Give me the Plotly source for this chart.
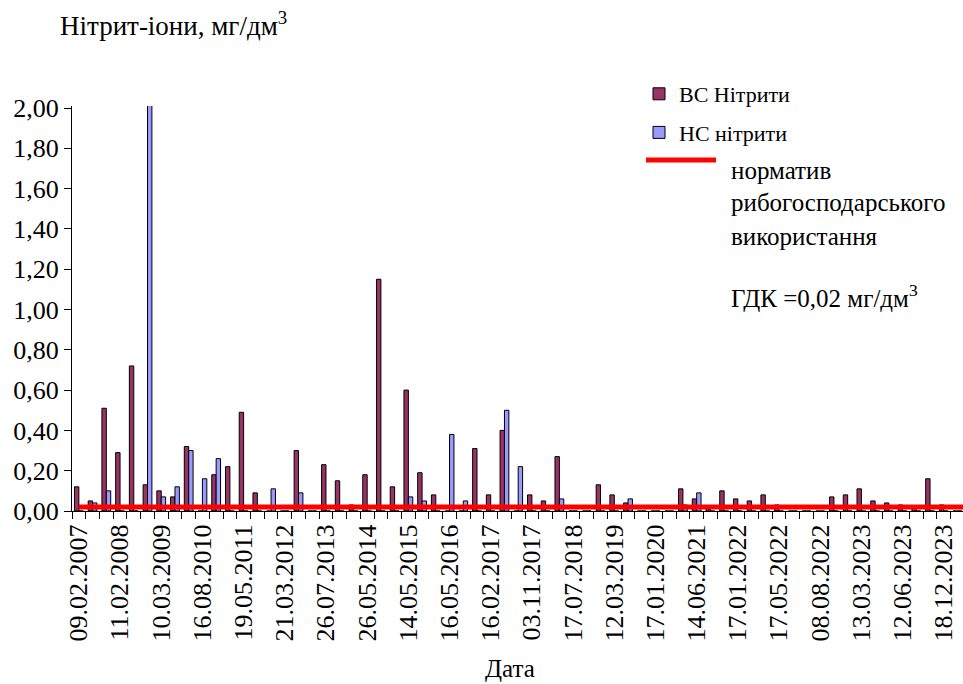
import plotly.graph_objects as go

# Sampling dates shown on the axis (every third sample is labelled)
tick_labels = [
    "09.02.2007", "11.02.2008", "10.03.2009", "16.08.2010", "19.05.2011",
    "21.03.2012", "26.07.2013", "26.05.2014", "14.05.2015", "16.05.2016",
    "16.02.2017", "03.11.2017", "17.07.2018", "12.03.2019", "17.01.2020",
    "14.06.2021", "17.01.2022", "17.05.2022", "08.08.2022", "13.03.2023",
    "12.06.2023", "18.12.2023",
]
label_step = 3

# Nitrite concentrations, mg/dm3, per sample
vs_nitrites = [
    0.12, 0.05, 0.51, 0.29, 0.72, 0.13, 0.10, 0.07, 0.32, 0.00,
    0.18, 0.22, 0.49, 0.09, 0.00, 0.00, 0.30, 0.00, 0.23, 0.15,
    0.03, 0.18, 1.15, 0.12, 0.60, 0.19, 0.08, 0.00, 0.00, 0.31,
    0.08, 0.40, 0.00, 0.08, 0.05, 0.27, 0.00, 0.00, 0.13, 0.08,
    0.04, 0.00, 0.00, 0.00, 0.11, 0.06, 0.01, 0.10, 0.06, 0.05,
    0.08, 0.03, 0.00, 0.00, 0.00, 0.07, 0.08, 0.11, 0.05, 0.04,
    0.03, 0.02, 0.16, 0.03, 0.00, 0.00,
]
ns_nitrites = [
    0.00, 0.04, 0.10, 0.00, 0.00, 2.05, 0.07, 0.12, 0.30, 0.16,
    0.26, 0.00, 0.00, 0.00, 0.11, 0.00, 0.09, 0.00, 0.00, 0.00,
    0.00, 0.00, 0.00, 0.00, 0.07, 0.05, 0.00, 0.38, 0.05, 0.00,
    0.00, 0.50, 0.22, 0.00, 0.00, 0.06, 0.00, 0.00, 0.00, 0.00,
    0.06, 0.00, 0.00, 0.00, 0.03, 0.09, 0.00, 0.00, 0.00, 0.00,
    0.00, 0.00, 0.00, 0.00, 0.00, 0.00, 0.00, 0.00, 0.00, 0.00,
    0.00, 0.00, 0.00, 0.00, 0.00, 0.00,
]
gdk = 0.02  # maximum permissible concentration for fishery use

y_ticks = [0.0, 0.2, 0.4, 0.6, 0.8, 1.0, 1.2, 1.4, 1.6, 1.8, 2.0]

n = len(vs_nitrites)
x_idx = list(range(n))
label_idx = list(range(0, len(tick_labels) * label_step, label_step))

FONT = "Liberation Serif"
W, H = 963, 684
ML, MR, MT, MB = 72, 0, 106, 173
plot_w = W - ML - MR
plot_h = H - MT - MB


def px(xp):
    return (xp - ML) / plot_w


def py(yp):
    return (H - MB - yp) / plot_h


fig = go.Figure()

fig.add_trace(go.Bar(
    x=x_idx, y=vs_nitrites, name="ВС Нітрити", legendgroup="vs",
    marker=dict(color="#993366", line=dict(color="black", width=1)),
))
fig.add_trace(go.Bar(
    x=x_idx, y=ns_nitrites, name="НС нітрити", legendgroup="ns",
    marker=dict(color="#9999FF", line=dict(color="black", width=1)),
))
fig.add_trace(go.Scatter(
    x=x_idx, y=[gdk] * n, mode="lines", showlegend=False,
    line=dict(color="#FF0000", width=5),
))

fig.update_layout(
    width=W, height=H,
    margin=dict(l=ML, r=MR, t=MT, b=MB),
    paper_bgcolor="white", plot_bgcolor="white",
    barmode="group", bargap=0.36, bargroupgap=0,
    font=dict(family=FONT, size=22, color="black"),
    showlegend=True,
    legend=dict(
        x=px(639), y=py(73), xanchor="left", yanchor="top",
        bgcolor="rgba(0,0,0,0)", tracegroupgap=7,
        font=dict(family=FONT, size=22, color="black"),
    ),
    xaxis=dict(
        range=[-0.5, 64.4], showgrid=False, zeroline=False,
        showline=True, linecolor="black", linewidth=1,
        tickmode="array", tickvals=label_idx, ticktext=tick_labels,
        tickangle=-90, ticks="outside", ticklen=2,
        tickcolor="rgba(0,0,0,0)",
        tickfont=dict(family=FONT, size=26, color="black"),
        minor=dict(ticks="outside", tickmode="linear", tick0=0.5, dtick=1,
                   ticklen=7, tickcolor="black", tickwidth=1),
    ),
    yaxis=dict(
        range=[0, 2.01], showgrid=False, zeroline=False,
        showline=True, linecolor="black", linewidth=1,
        tickmode="array", tickvals=y_ticks,
        ticktext=[f"{v:.2f}".replace(".", ",") for v in y_ticks],
        ticks="outside", ticklen=7, tickcolor="black",
        tickfont=dict(family=FONT, size=26, color="black"),
    ),
)

# Legend key for the permissible-concentration line
fig.add_shape(type="line", xref="paper", yref="paper",
              x0=px(646), x1=px(716), y0=py(160), y1=py(160),
              line=dict(color="#FF0000", width=5))

note_lines = [
    ("норматив", 170),
    ("рибогосподарського", 202),
    ("використання", 236),
    ("ГДК =0,02 мг/дм<sup>3</sup>", 296),
]
for txt, yy in note_lines:
    fig.add_annotation(text=txt, xref="paper", yref="paper",
                       x=px(729), y=py(yy), xanchor="left", yanchor="middle",
                       showarrow=False, font=dict(family=FONT, size=25))

fig.add_annotation(text="Нітрит-іони, мг/дм<sup>3</sup>", xref="paper", yref="paper",
                   x=px(58), y=py(24), xanchor="left", yanchor="middle",
                   showarrow=False, font=dict(family=FONT, size=27))
fig.add_annotation(text="Дата", xref="paper", yref="paper",
                   x=px(510), y=py(668), xanchor="center", yanchor="middle",
                   showarrow=False, font=dict(family=FONT, size=25))

fig.write_html("out.html")
